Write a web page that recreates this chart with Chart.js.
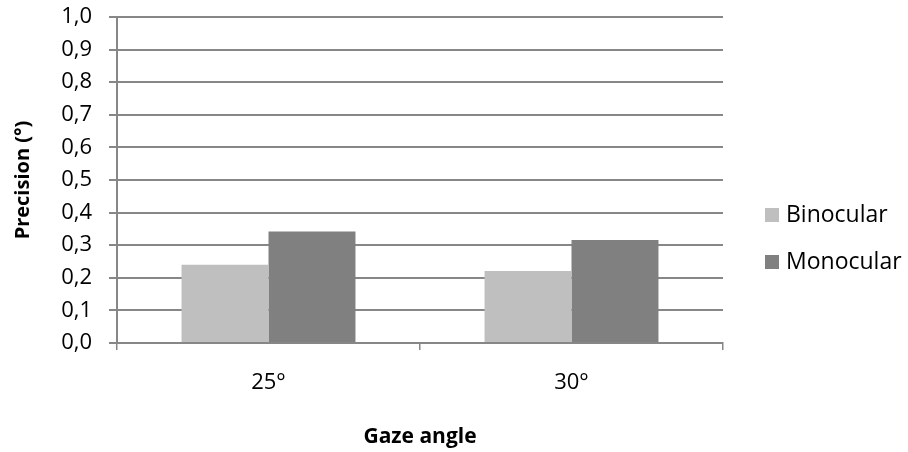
<!DOCTYPE html>
<html>
<head>
<meta charset="utf-8">
<script src="https://cdn.jsdelivr.net/npm/chart.js@4/dist/chart.umd.min.js"></script>
<style>
  html, body { margin: 0; padding: 0; background: #fff; }
  #wrap { width: 908px; height: 452px; }
</style>
</head>
<body>
<div id="wrap"><canvas id="chart" width="908" height="452"></canvas></div>
<script>
// chart values
const categories = ['25°', '30°'];
const binocular = [0.240, 0.221];
const monocular = [0.342, 0.316];
const yTickLabels = ['0,0', '0,1', '0,2', '0,3', '0,4', '0,5', '0,6', '0,7', '0,8', '0,9', '1,0'];

const FONT = '"Open Sans", Lato, sans-serif';
const GRID = '#878787';

// legend drawn on the right, next to the plot
const sideLegend = {
    id: 'sideLegend',
    afterDraw(chart) {
        const ctx = chart.ctx;
        ctx.save();
        ctx.font = '23px ' + FONT;
        ctx.textBaseline = 'middle';
        ctx.textAlign = 'left';
        chart.data.datasets.forEach((ds, i) => {
            const y = 215 + i * 47;
            ctx.fillStyle = ds.backgroundColor;
            ctx.fillRect(765, y - 7, 14, 14);
            ctx.fillStyle = '#000';
            ctx.fillText(ds.label, 786, y);
        });
        ctx.restore();
    }
};

new Chart(document.getElementById('chart').getContext('2d'), {
    type: 'bar',
    data: {
        labels: categories,
        datasets: [
            { label: 'Binocular', data: binocular, backgroundColor: '#bfbfbf' },
            { label: 'Monocular', data: monocular, backgroundColor: '#808080' }
        ]
    },
    options: {
        responsive: false,
        animation: false,
        events: [],
        categoryPercentage: 0.574,
        barPercentage: 1.0,
        layout: { padding: { top: 17, right: 185, bottom: 0, left: 0 } },
        plugins: {
            legend: { display: false },
            tooltip: { enabled: false }
        },
        scales: {
            x: {
                afterFit: s => { s.height = 109; s.paddingLeft = 0; s.paddingRight = 0; },
                grid: { display: true, drawOnChartArea: false, drawTicks: true, tickLength: 7, color: GRID, lineWidth: 1.5, offset: true },
                border: { color: GRID, width: 2 },
                ticks: { font: { family: FONT, size: 22 }, color: '#000', padding: 20 },
                title: { display: true, text: 'Gaze angle', font: { family: FONT, size: 21, weight: 'bold' }, color: '#000', padding: { top: 0, bottom: 2 } }
            },
            y: {
                min: 0,
                max: 1,
                afterFit: s => { s.width = 117; s.paddingTop = 0; s.paddingBottom = 0; },
                grid: { color: GRID, lineWidth: 2, drawTicks: true, tickLength: 8 },
                border: { color: GRID, width: 2 },
                ticks: {
                    stepSize: 0.1,
                    font: { family: FONT, size: 22 },
                    color: '#000',
                    padding: 17,
                    callback: (v, i) => yTickLabels[i]
                },
                title: { display: true, text: 'Precision (°)', font: { family: FONT, size: 20, weight: 'bold' }, color: '#000', padding: { top: 11, bottom: 10 } }
            }
        }
    },
    plugins: [sideLegend]
});
</script>
</body>
</html>
